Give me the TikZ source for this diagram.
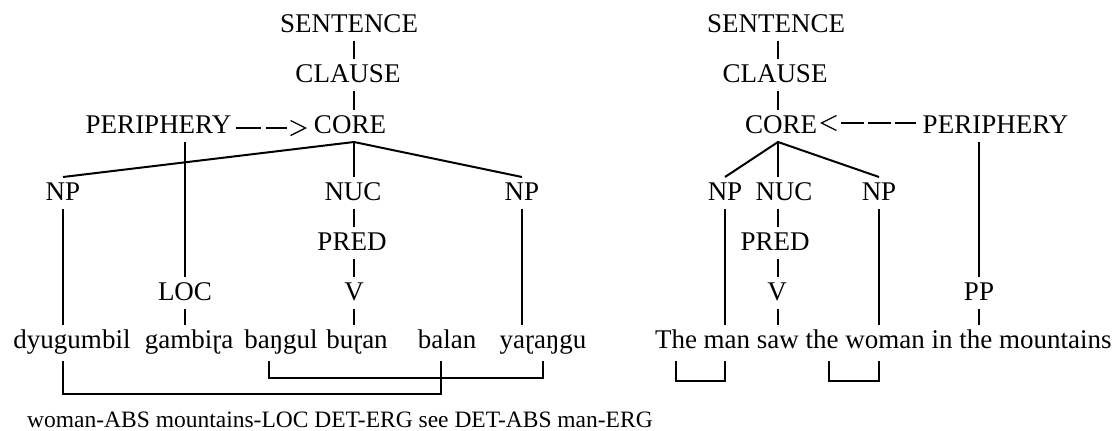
\documentclass[tikz,border=0pt]{standalone}
\usepackage{fontspec}
\setmainfont{Liberation Serif}
\usetikzlibrary{arrows.meta}
\newcommand\treefont{\fontsize{27}{32}\selectfont}
\newcommand\glossfont{\fontsize{23.5}{28}\selectfont}
\begin{document}
\begin{tikzpicture}[x=1pt,y=-1pt,
  lab/.style={inner sep=0pt,outer sep=3pt,anchor=base,text height=20pt,text depth=6pt,font=\treefont},
  wd/.style={lab,text depth=10pt},
  rw/.style={wd,anchor=base west},
  ln/.style={line width=2pt},
  dline/.style={line width=1.3pt},
  chev/.style={-{Straight Barb[length=15pt,width=15pt]}}
]
\useasboundingbox (0,0) rectangle (1114,431);

% ---------------- Dyirbal tree ----------------
\coordinate (spL) at (354,0);
\node[lab] (sL)    at (349,32)  {SENTENCE};
\node[lab] (clL)   at (348,82)  {CLAUSE};
\node[lab] (perL)  at (158.5,133) {PERIPHERY};
\node[lab] (coreL) at (350,133) {CORE};
\node[lab] (npL1)  at (63,200)  {NP};
\node[lab] (nucL)  at (353,200) {NUC};
\node[lab] (npL2)  at (522,200) {NP};
\node[lab] (predL) at (352,250) {PRED};
\node[lab] (vL)    at (354,300) {V};
\node[lab] (locL)  at (185,300) {LOC};

\node[wd] (dy)   at (72,348)  {dyugumbil};
\node[wd] (gam)  at (189,348) {gambiɽa};
\node[wd] (bang) at (281,348) {baŋgul};
\node[wd] (bur)  at (357,348) {buɽan};
\node[wd] (bal)  at (447,348) {balan};
\node[wd] (ya)   at (543,348) {yaɽaŋgu};

\node[inner sep=0pt,anchor=base west,font=\glossfont] (gloss) at (27,427)
  {woman-ABS mountains-LOC DET-ERG see DET-ABS man-ERG};

\draw[ln] (sL.south -| spL) -- (clL.north -| spL);
\draw[ln] (clL.south -| spL) -- (coreL.north -| spL);
\coordinate (jL) at (coreL.south -| spL);
\draw[ln] (npL1.north) -- (jL) -- (npL2.north);
\draw[ln] (jL) -- (nucL.north -| spL);
\draw[ln] (nucL.south -| spL) -- (predL.north -| spL);
\draw[ln] (predL.south -| spL) -- (vL.north -| spL);
\draw[ln] (vL.south -| spL) -- (bur.north -| spL);
\draw[ln] (perL.south -| locL) -- (locL.north);
\draw[ln] (locL.south) -- (locL |- gam.north);
\draw[ln] (npL1.south) -- (npL1 |- dy.north);
\draw[ln] (npL2.south) -- (npL2 |- ya.north);

\draw[dline,chev,dash pattern=on 25pt off 5pt on 21pt off 40pt,shorten <=2pt,shorten >=4pt]
  ([yshift=-2pt]perL.east) -- ([yshift=-2pt]coreL.west);

% links between the Dyirbal words
\draw[ln] (npL1 |- dy.south) -- ++(0,33) -| ([xshift=-6pt]bal.south);
\draw[ln] ([xshift=-12pt]bang.south) -- ++(0,17) -| (ya.south);

% ---------------- English tree ----------------
\coordinate (spR) at (778,0);
\node[lab] (sR)    at (776,32)  {SENTENCE};
\node[lab] (clR)   at (775,82)  {CLAUSE};
\node[lab] (coreR) at (781,133) {CORE};
\node[lab] (perR)  at (995.5,133) {PERIPHERY};
\node[lab] (npR1)  at (725,200) {NP};
\node[lab] (nucR)  at (784,200) {NUC};
\node[lab] (npR2)  at (879,200) {NP};
\node[lab] (predR) at (775,250) {PRED};
\node[lab] (vR)    at (777,300) {V};
\node[lab] (ppR)   at (979,300) {PP};

\node[rw] (e1) at (652,348) {The};
\node[rw] (e2) at ([xshift=0.75pt]e1.base east) {man};
\node[rw] (e3) at ([xshift=0.75pt]e2.base east) {saw};
\node[rw] (e4) at ([xshift=0.75pt]e3.base east) {the};
\node[rw] (e5) at ([xshift=0.75pt]e4.base east) {woman};
\node[rw] (e6) at ([xshift=0.75pt]e5.base east) {in};
\node[rw] (e7) at ([xshift=0.75pt]e6.base east) {the};
\node[rw] (e8) at ([xshift=0.75pt]e7.base east) {mountains};

\draw[ln] (sR.south -| spR) -- (clR.north -| spR);
\draw[ln] (clR.south -| spR) -- (coreR.north -| spR);
\coordinate (jR) at (coreR.south -| spR);
\draw[ln] (npR1.north) -- (jR) -- (npR2.north);
\draw[ln] (jR) -- (nucR.north -| spR);
\draw[ln] (nucR.south -| spR) -- (predR.north -| spR);
\draw[ln] (predR.south -| spR) -- (vR.north -| spR);
\draw[ln] (vR.south -| spR) -- (e3.north -| spR);
\draw[ln] (perR.south -| ppR) -- (ppR.north);
\draw[ln] (ppR.south) -- (ppR |- e7.north);
\draw[ln] (npR1.south) -- (npR1 |- e2.north);
\draw[ln] (npR2.south) -- (npR2 |- e5.north);

\draw[dline,chev,dash pattern=on 21pt off 4pt on 23pt off 4pt on 23pt off 40pt,shorten <=4pt]
  ([yshift=3pt]perR.west) -- ([yshift=3pt]coreR.east);

% links between the English words
\draw[ln] (e1.south) -- ++(0,20) -| (npR1 |- e2.south);
\draw[ln] ([xshift=7pt]e4.south) -- ++(0,20) -| (npR2 |- e5.south);
\end{tikzpicture}
\end{document}
